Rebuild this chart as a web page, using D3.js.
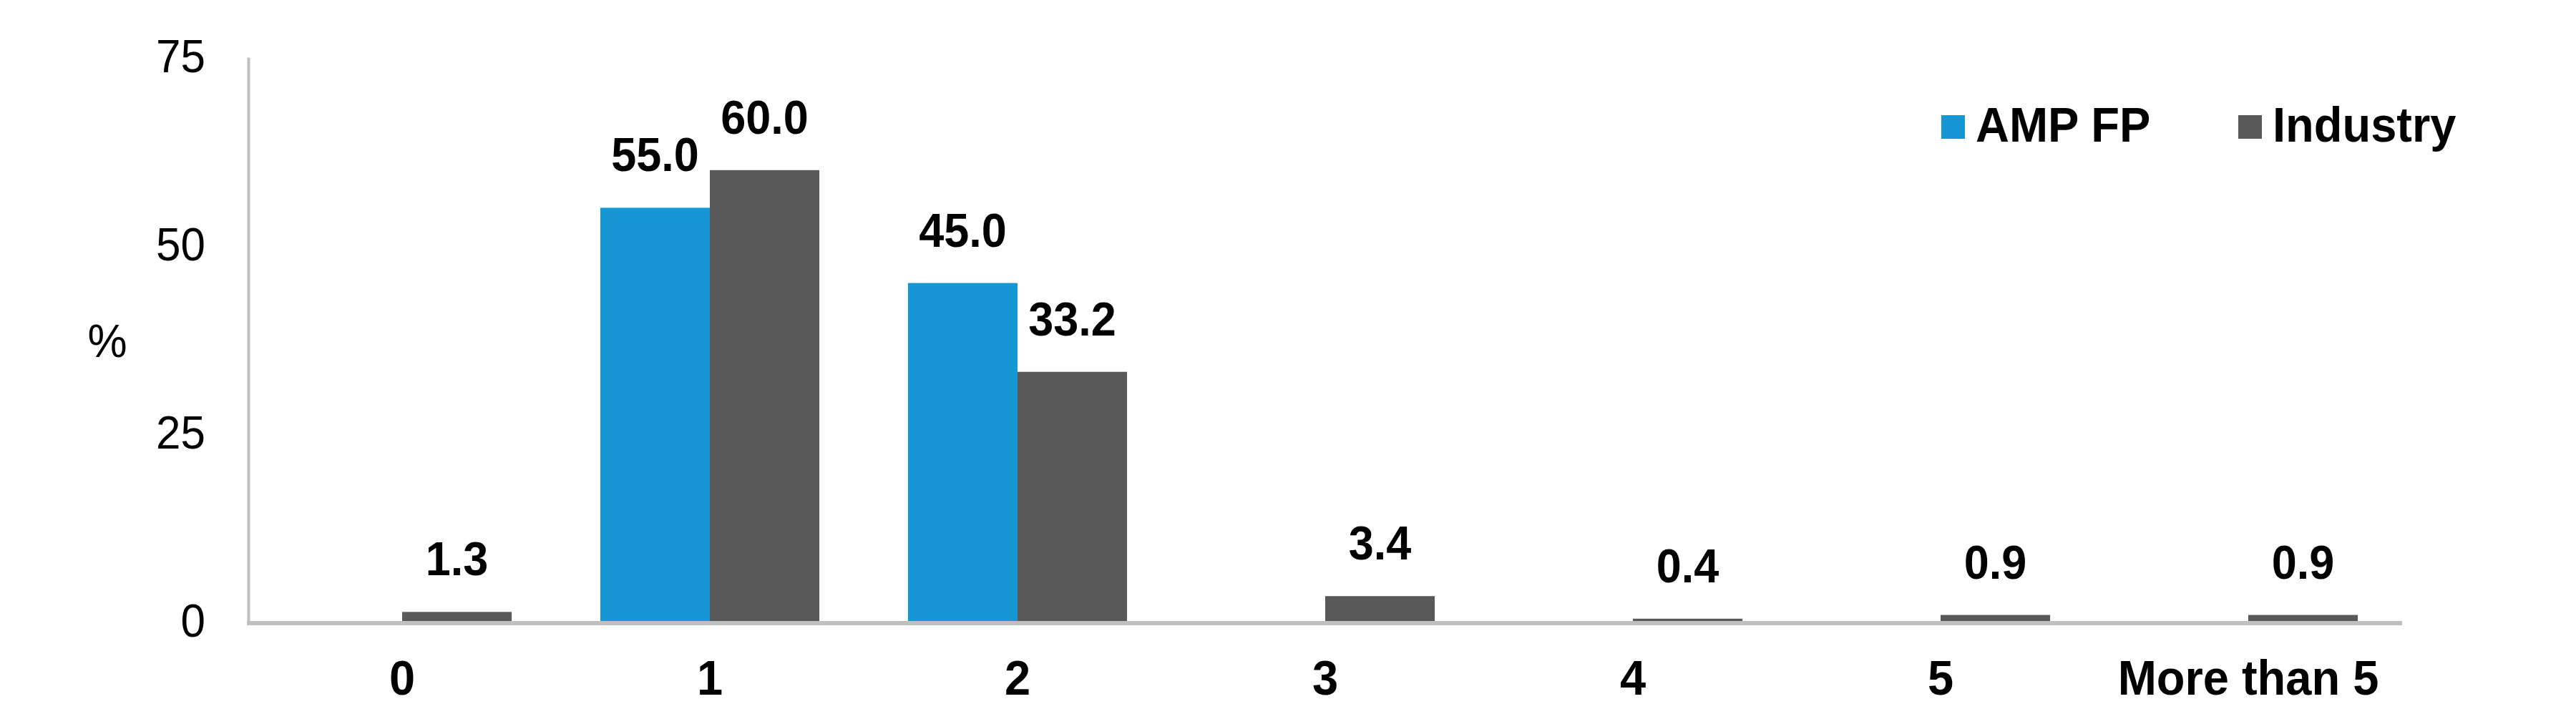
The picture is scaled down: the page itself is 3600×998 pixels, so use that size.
<!DOCTYPE html>
<html>
<head>
<meta charset="utf-8">
<script src="https://cdn.jsdelivr.net/npm/d3@7"></script>
<style>
  html, body { margin: 0; padding: 0; background: #ffffff; }
  svg { display: block; }
  text { font-family: "Liberation Sans", Arial, sans-serif; fill: #000; }
</style>
</head>
<body>
<script>
// ---- data ----
const categories = ["0", "1", "2", "3", "4", "5", "More than 5"];
const seriesNames = ["AMP FP", "Industry"];
const ampValues = [null, 55.0, 45.0, null, null, null, null];
const industryValues = [1.3, 60.0, 33.2, 3.4, 0.4, 0.9, 0.9];
const yTicks = [0, 25, 50, 75];
const colors = ["#1697d4", "#595959"];

// ---- layout ----
const W = 3600, H = 998;
const plotLeft = 347, plotRight = 3357, plotTop = 80, plotBottom = 869;
const SY = 1.06; // slight vertical stretch of glyphs seen in reference

const svg = d3.select("body").append("svg").attr("width", W).attr("height", H);

const y = d3.scaleLinear().domain([0, 75]).range([plotBottom, plotTop]);
const x0 = d3.scaleBand().domain(categories).range([plotLeft, plotRight])
  .paddingInner(0.288).paddingOuter(0.144);
const x1 = d3.scaleBand().domain(seriesNames).range([0, x0.bandwidth()]);

const rows = categories.map((c, i) => ({
  cat: c,
  vals: [
    { s: seriesNames[0], v: ampValues[i], c: colors[0] },
    { s: seriesNames[1], v: industryValues[i], c: colors[1] }
  ]
}));

// bars
const g = svg.append("g");
const groups = g.selectAll("g.grp").data(rows).join("g")
  .attr("transform", d => `translate(${x0(d.cat)},0)`);

groups.selectAll("rect").data(d => d.vals.filter(e => e.v != null)).join("rect")
  .attr("x", e => x1(e.s))
  .attr("width", x1.bandwidth())
  .attr("y", e => y(e.v))
  .attr("height", e => y(0) - y(e.v))
  .attr("fill", e => e.c);

groups.selectAll("text.val").data(d => d.vals.filter(e => e.v != null)).join("text")
  .attr("class", "val")
  .attr("transform", e => `translate(${x1(e.s) + x1.bandwidth() / 2},${y(e.v) - 51}) scale(1,${SY})`)
  .attr("text-anchor", "middle")
  .style("font-size", "63px")
  .style("font-weight", "bold")
  .text(e => d3.format(".1f")(e.v));

// y axis
const yAxis = svg.append("g").attr("transform", `translate(${plotLeft},0)`)
  .call(d3.axisLeft(y).tickValues(yTicks).tickSize(0).tickPadding(60).tickFormat(d3.format("d")));
yAxis.select(".domain").attr("stroke", "#bfbfbf").attr("stroke-width", 4);
yAxis.selectAll("text")
  .attr("x", 0).attr("dy", null)
  .attr("transform", `translate(-60,20) scale(1,${SY})`)
  .attr("text-anchor", "end")
  .style("font-size", "62px").style("font-family", "Liberation Sans, Arial, sans-serif").attr("fill", "#000");

// x axis
const xAxis = svg.append("g").attr("transform", `translate(0,${plotBottom})`)
  .call(d3.axisBottom(x0).tickSize(0).tickPadding(0));
xAxis.select(".domain").attr("stroke", "#bfbfbf").attr("stroke-width", 6)
  .attr("d", `M${plotLeft - 2},2H${plotRight}`);
xAxis.selectAll("text").attr("y", 0).attr("dy", null)
  .attr("transform", `translate(0,102) scale(1,${SY})`)
  .style("font-size", "65px").style("font-weight", "bold")
  .style("font-family", "Liberation Sans, Arial, sans-serif").attr("fill", "#000");

// y axis title
svg.append("text")
  .attr("transform", `translate(150,499) scale(1,${SY})`)
  .attr("text-anchor", "middle")
  .style("font-size", "62px").text("%");

// legend
const legendX = [2713, 3128];
const legend = svg.append("g");
seriesNames.forEach((s, i) => {
  legend.append("rect").attr("x", legendX[i]).attr("y", 161).attr("width", 33).attr("height", 33).attr("fill", colors[i]);
  legend.append("text")
    .attr("transform", `translate(${legendX[i] + 48},198) scale(1,${SY})`)
    .style("font-size", "65px").style("font-weight", "bold").text(s);
});
</script>
</body>
</html>
